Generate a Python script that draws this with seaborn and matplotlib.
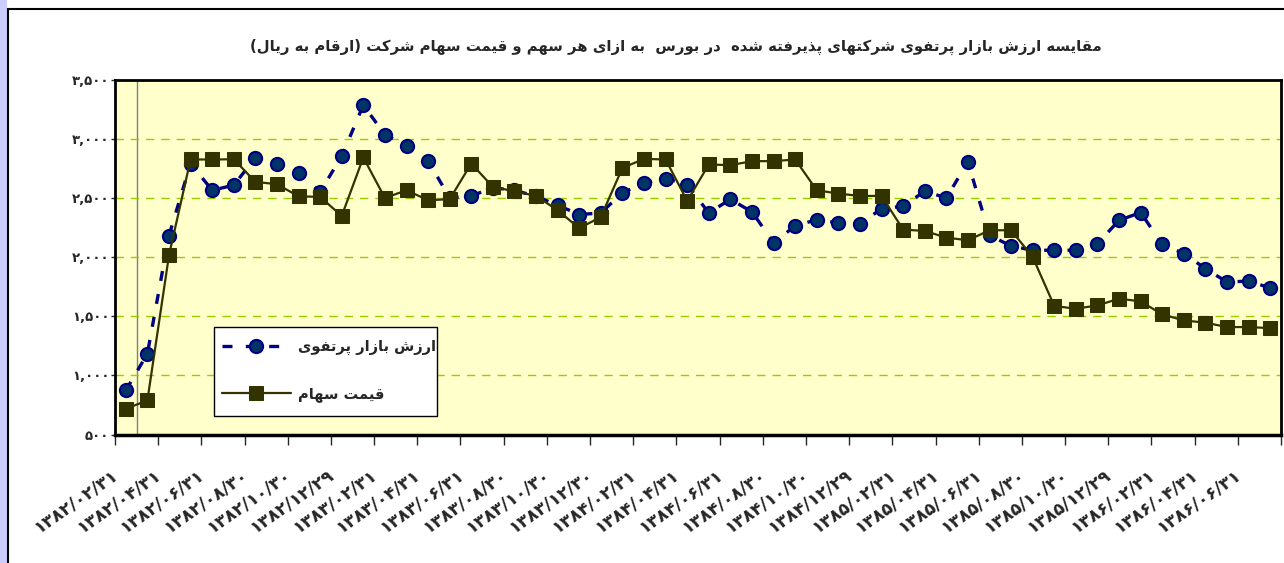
"""
Portfolio market value vs. share price chart (Persian labels)
"""
import matplotlib
matplotlib.use("Agg")
import matplotlib.pyplot as plt
import matplotlib.transforms as mtransforms
from matplotlib.patches import Rectangle
import seaborn as sns
import pandas as pd

# ---- data -------------------------------------------------------------
title = "مقایسه ارزش بازار پرتفوی شرکتهای پذیرفته شده  در بورس  به ازای هر سهم و قیمت سهام شرکت (ارقام به ریال)"
series_portfolio = "ارزش بازار پرتفوی"
series_price = "قیمت سهام"

tick_labels = [
    "۱۳۸۲/۰۲/۳۱", "۱۳۸۲/۰۴/۳۱", "۱۳۸۲/۰۶/۳۱", "۱۳۸۲/۰۸/۳۰", "۱۳۸۲/۱۰/۳۰", "۱۳۸۲/۱۲/۲۹",
    "۱۳۸۳/۰۲/۳۱", "۱۳۸۳/۰۴/۳۱", "۱۳۸۳/۰۶/۳۱", "۱۳۸۳/۰۸/۳۰", "۱۳۸۳/۱۰/۳۰", "۱۳۸۳/۱۲/۳۰",
    "۱۳۸۴/۰۲/۳۱", "۱۳۸۴/۰۴/۳۱", "۱۳۸۴/۰۶/۳۱", "۱۳۸۴/۰۸/۳۰", "۱۳۸۴/۱۰/۳۰", "۱۳۸۴/۱۲/۲۹",
    "۱۳۸۵/۰۲/۳۱", "۱۳۸۵/۰۴/۳۱", "۱۳۸۵/۰۶/۳۱", "۱۳۸۵/۰۸/۳۰", "۱۳۸۵/۱۰/۳۰", "۱۳۸۵/۱۲/۲۹",
    "۱۳۸۶/۰۲/۳۱", "۱۳۸۶/۰۴/۳۱", "۱۳۸۶/۰۶/۳۱",
]

portfolio = [872, 1183, 2181, 2790, 2564, 2607, 2838, 2790, 2711, 2550,
             2852, 3283, 3035, 2939, 2812, 2500, 2516, 2585, 2564, 2513,
             2437, 2359, 2372, 2542, 2626, 2663, 2612, 2372, 2488, 2381,
             2122, 2262, 2316, 2288, 2277, 2409, 2429, 2556, 2499, 2804,
             2184, 2093, 2057, 2057, 2057, 2113, 2310, 2376, 2107, 2029,
             1902, 1788, 1797, 1738]

price = [717, 788, 2014, 2824, 2824, 2826, 2635, 2615, 2513, 2508,
         2347, 2841, 2499, 2564, 2480, 2488, 2790, 2592, 2556, 2516,
         2395, 2243, 2338, 2753, 2829, 2824, 2474, 2782, 2776, 2810,
         2810, 2824, 2564, 2536, 2516, 2516, 2232, 2220, 2164, 2141,
         2226, 2226, 2000, 1586, 1563, 1591, 1648, 1625, 1515, 1464,
         1445, 1408, 1408, 1399]

y_ticks = [500, 1000, 1500, 2000, 2500, 3000, 3500]

# ---- simple Arabic/Persian shaping (matplotlib has no text shaping) ---
# iso, fin, ini, med ; right-joining letters only have iso, fin
FORMS = {
    'ا': '\uFE8D\uFE8E', 'آ': '\uFE81\uFE82', 'د': '\uFEA9\uFEAA', 'ذ': '\uFEAB\uFEAC',
    'ر': '\uFEAD\uFEAE', 'ز': '\uFEAF\uFEB0', 'ژ': '\uFB8A\uFB8B', 'و': '\uFEED\uFEEE',
    'ب': '\uFE8F\uFE90\uFE91\uFE92', 'پ': '\uFB56\uFB57\uFB58\uFB59',
    'ت': '\uFE95\uFE96\uFE97\uFE98', 'ث': '\uFE99\uFE9A\uFE9B\uFE9C',
    'ج': '\uFE9D\uFE9E\uFE9F\uFEA0', 'چ': '\uFB7A\uFB7B\uFB7C\uFB7D',
    'ح': '\uFEA1\uFEA2\uFEA3\uFEA4', 'خ': '\uFEA5\uFEA6\uFEA7\uFEA8',
    'س': '\uFEB1\uFEB2\uFEB3\uFEB4', 'ش': '\uFEB5\uFEB6\uFEB7\uFEB8',
    'ص': '\uFEB9\uFEBA\uFEBB\uFEBC', 'ض': '\uFEBD\uFEBE\uFEBF\uFEC0',
    'ط': '\uFEC1\uFEC2\uFEC3\uFEC4', 'ظ': '\uFEC5\uFEC6\uFEC7\uFEC8',
    'ع': '\uFEC9\uFECA\uFECB\uFECC', 'غ': '\uFECD\uFECE\uFECF\uFED0',
    'ف': '\uFED1\uFED2\uFED3\uFED4', 'ق': '\uFED5\uFED6\uFED7\uFED8',
    'ک': '\uFB8E\uFB8F\uFB90\uFB91', 'گ': '\uFB92\uFB93\uFB94\uFB95',
    'ل': '\uFEDD\uFEDE\uFEDF\uFEE0', 'م': '\uFEE1\uFEE2\uFEE3\uFEE4',
    'ن': '\uFEE5\uFEE6\uFEE7\uFEE8', 'ه': '\uFEE9\uFEEA\uFEEB\uFEEC',
    'ی': '\uFBFC\uFBFD\uFBFE\uFBFF',
}


def rtl(text):
    out = []
    for i, ch in enumerate(text):
        forms = FORMS.get(ch)
        if forms is None:
            out.append(ch)
            continue
        prev = text[i - 1] if i > 0 else ''
        nxt = text[i + 1] if i + 1 < len(text) else ''
        join_prev = prev in FORMS and len(FORMS[prev]) == 4
        join_next = len(forms) == 4 and nxt in FORMS
        if join_prev and join_next:
            out.append(forms[3])
        elif join_prev:
            out.append(forms[1])
        elif join_next:
            out.append(forms[2])
        else:
            out.append(forms[0])
    return ''.join(out)[::-1].translate(str.maketrans('()', ')('))


def fa_num(v):
    s = f"{v:,}"
    return s.translate(str.maketrans('0123456789', '۰۱۲۳۴۵۶۷۸۹'))


# ---- plot ---------------------------------------------------------------
sns.set_style("white")
plt.rcParams['font.family'] = ['DejaVu Sans']

df = pd.DataFrame({'idx': range(len(portfolio)), 'portfolio': portfolio, 'price': price})

W, H = 1284, 563
fig = plt.figure(figsize=(W / 100, H / 100), dpi=100)
fig.patch.set_facecolor('white')
ax = fig.add_axes([115 / W, 1 - 434.5 / H, (1281 - 115) / W, (434.5 - 79.5) / H])
ax.set_facecolor('#FFFFCC')

# outer chart border and left strip
fig.patches.append(Rectangle((0, 0), 7 / W, 1, transform=fig.transFigure,
                             facecolor='#ccccff', edgecolor='none', zorder=0))
fig.patches.append(Rectangle((8 / W, -0.1), 1.1, 1 - 9 / H + 0.1, transform=fig.transFigure,
                             facecolor='none', edgecolor='black', lw=1.5, zorder=1))

sns.lineplot(data=df, x='idx', y='portfolio', ax=ax, color='#000080', lw=2.4,
             linestyle=(0, (3, 4)), marker='o', markersize=9.5,
             markerfacecolor='#003366', markeredgecolor='#000080', markeredgewidth=1.5,
             label=rtl(series_portfolio), zorder=3)
sns.lineplot(data=df, x='idx', y='price', ax=ax, color='#333300', lw=1.6,
             marker='s', markersize=9.5, markerfacecolor='#333300',
             markeredgecolor='#333300', label=rtl(series_price), zorder=4)

ax.axvline(0.5, color='#808080', lw=1, zorder=1)

ax.set_xlim(-0.5, len(portfolio) - 0.5)
ax.set_ylim(500, 3500)
for v in y_ticks[1:-1]:
    ax.axhline(v, color='#99CC00', lw=1, linestyle=(0, (6, 5)), zorder=1)

ax.set_yticks(y_ticks)
ax.set_yticklabels([fa_num(v) for v in y_ticks], fontsize=9.5, fontweight='bold')
ax.tick_params(axis='y', direction='out', length=3, width=1, pad=1, left=True)

ax.set_xticks(range(0, len(portfolio), 2))
ax.set_xticklabels(tick_labels, fontsize=12.5, fontweight='bold', rotation=35,
                   ha='right', va='top', rotation_mode='anchor')
ax.set_xticks([i - 0.5 for i in range(0, len(portfolio) + 1, 2)], minor=True)
ax.tick_params(axis='x', which='major', length=0, pad=22)
ax.tick_params(axis='x', which='minor', direction='out', length=7, width=1, bottom=True)
offset = mtransforms.ScaledTranslation(-0.15, 0, fig.dpi_scale_trans)
for lab in ax.get_xticklabels():
    lab.set_transform(lab.get_transform() + offset)

for side in ['left', 'top', 'right']:
    ax.spines[side].set_color('black')
    ax.spines[side].set_linewidth(2)
ax.spines['bottom'].set_color('black')
ax.spines['bottom'].set_linewidth(2.5)
ax.set_xlabel('')
ax.set_ylabel('')

# legend: white box drawn separately so the padding matches the original
ax.add_patch(Rectangle(((214 - 115) / 1166, (434.5 - 416) / 355), 223 / 1166, 89 / 355,
                       transform=ax.transAxes, facecolor='white', edgecolor='black',
                       lw=1, zorder=6))
leg = ax.legend(loc='upper left', bbox_to_anchor=((222 - 115) / 1166, (434.5 - 339) / 355),
                borderaxespad=0, borderpad=0, frameon=False,
                prop={'weight': 'bold', 'size': 10.5},
                handlelength=4.7, labelspacing=2.1, handletextpad=0.5)
leg.set_zorder(7)

fig.text(676 / W, 1 - 47 / H, rtl(title), ha='center', va='center',
         fontsize=10.7, fontweight='bold')

fig.savefig('out.png', dpi=100)
